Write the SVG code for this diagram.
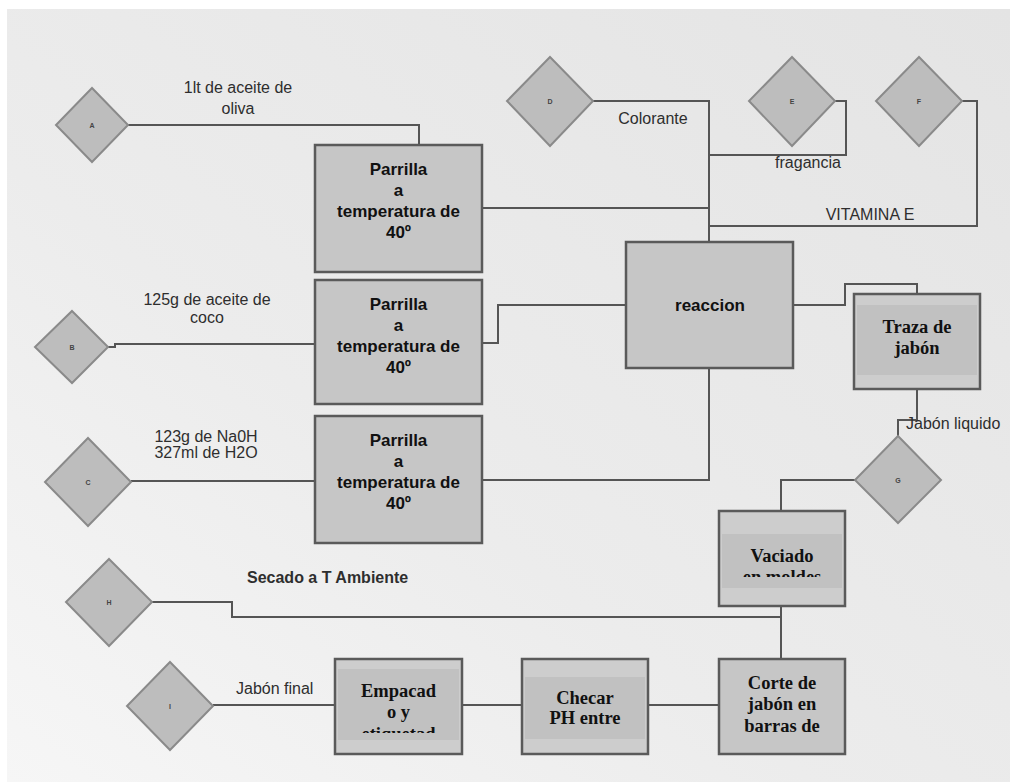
<svg xmlns="http://www.w3.org/2000/svg" width="1010" height="782" viewBox="0 0 1010 782">
<defs>
<linearGradient id="bg" x1="1" y1="0" x2="0" y2="1">
<stop offset="0" stop-color="#e4e4e4"/>
<stop offset="0.6" stop-color="#ececec"/>
<stop offset="1" stop-color="#f6f6f6"/>
</linearGradient>
<clipPath id="clipV"><rect x="719" y="511" width="126" height="66"/></clipPath>
<clipPath id="clipE"><rect x="335" y="659" width="127" height="74"/></clipPath>
</defs>
<style>
.dia{fill:#bdbdbd;stroke:#8a8a8a;stroke-width:2}
.dl{font-family:"Liberation Sans",Arial,sans-serif;font-size:7px;font-weight:bold;fill:#444;text-anchor:middle}
.box{fill:#c6c6c6;stroke:#5a5a5a;stroke-width:2.5}
.tb{fill:#cdcdcd;stroke:#5a5a5a;stroke-width:2.5}
.mid{fill:#c1c1c1}
.bt{font-family:"Liberation Sans",Arial,sans-serif;font-size:17px;font-weight:bold;fill:#111;text-anchor:middle}
.tt{font-family:"Liberation Serif","Times New Roman",serif;font-size:18.5px;font-weight:bold;fill:#111;text-anchor:middle}
.ln{fill:none;stroke:#555;stroke-width:2}
.lb{font-family:"Liberation Sans",Arial,sans-serif;font-size:16px;fill:#2e2e2e}
</style>
<rect x="0" y="0" width="1010" height="782" fill="#ffffff"/>
<rect x="7" y="9" width="1003" height="773" fill="url(#bg)"/>

<g id="connectors">
<path class="ln" d="M128,125 H419 V145"/>
<path class="ln" d="M108,347 H115 V344 H315"/>
<path class="ln" d="M131,481 H315"/>
<path class="ln" d="M482,208 H709"/>
<path class="ln" d="M593,101 H709 V242"/>
<path class="ln" d="M835,101 H846 V155 H709"/>
<path class="ln" d="M962,101 H977 V226 H709"/>
<path class="ln" d="M482,343 H498 V305 H626"/>
<path class="ln" d="M482,480 H709 V368"/>
<path class="ln" d="M793,305 H845 V284 H917 V294"/>
<path class="ln" d="M917,389 V420 H898 V436"/>
<path class="ln" d="M855,480 H781 V511"/>
<path class="ln" d="M781,606 V659"/>
<path class="ln" d="M152,602 H232 V617 H781"/>
<path class="ln" d="M213,705 H335"/>
<path class="ln" d="M462,705 H522"/>
<path class="ln" d="M648,705 H719"/>
<text class="lb" x="238" y="93" text-anchor="middle">1lt de aceite de</text>
<text class="lb" x="238" y="114" text-anchor="middle">oliva</text>
<text class="lb" x="207" y="305" text-anchor="middle">125g de aceite de</text>
<text class="lb" x="207" y="323" text-anchor="middle">coco</text>
<text class="lb" x="206" y="442" text-anchor="middle">123g de Na0H</text>
<text class="lb" x="206" y="458" text-anchor="middle">327ml de H2O</text>
<text class="lb" x="653" y="124" text-anchor="middle">Colorante</text>
<text class="lb" x="808" y="168" text-anchor="middle">fragancia</text>
<text class="lb" x="870" y="220" text-anchor="middle">VITAMINA E</text>
<text class="lb" x="906" y="429" font-size="14.5">Jabón liquido</text>
<text class="lb" x="247" y="583" font-size="14.5" font-weight="bold" fill="#1a1a1a">Secado a T Ambiente</text>
<text class="lb" x="236" y="694">Jabón final</text>
</g>

<g id="A"><polygon class="dia" points="92,88 128,125 92,162 56,125"/><text class="dl" x="92" y="128">A</text></g>
<g id="B"><polygon class="dia" points="72,311 108,347 72,383 35,347"/><text class="dl" x="72" y="350">B</text></g>
<g id="C"><polygon class="dia" points="88,438 131,482 88,526 45,482"/><text class="dl" x="88" y="485">C</text></g>
<g id="D"><polygon class="dia" points="550,57 593,101 550,146 507,101"/><text class="dl" x="550" y="104">D</text></g>
<g id="E"><polygon class="dia" points="792,57 835,101 792,146 749,101"/><text class="dl" x="792" y="104">E</text></g>
<g id="F"><polygon class="dia" points="919,57 962,101 919,146 876,101"/><text class="dl" x="919" y="104">F</text></g>
<g id="G"><polygon class="dia" points="898,436 941,480 898,523 855,480"/><text class="dl" x="898" y="483">G</text></g>
<g id="H"><polygon class="dia" points="109,559 152,602 109,646 66,602"/><text class="dl" x="109" y="605">H</text></g>
<g id="I"><polygon class="dia" points="170,662 213,706 170,750 127,706"/><text class="dl" x="170" y="709">I</text></g>

<g id="parrilla1"><rect class="box" x="315" y="145" width="167" height="127"/>
<text class="bt" x="398.5" y="175">Parrilla</text><text class="bt" x="398.5" y="196">a</text><text class="bt" x="398.5" y="217">temperatura de</text><text class="bt" x="398.5" y="238">40º</text></g>
<g id="parrilla2"><rect class="box" x="315" y="280" width="167" height="124"/>
<text class="bt" x="398.5" y="310">Parrilla</text><text class="bt" x="398.5" y="331">a</text><text class="bt" x="398.5" y="352">temperatura de</text><text class="bt" x="398.5" y="373">40º</text></g>
<g id="parrilla3"><rect class="box" x="315" y="416" width="167" height="127"/>
<text class="bt" x="398.5" y="446">Parrilla</text><text class="bt" x="398.5" y="467">a</text><text class="bt" x="398.5" y="488">temperatura de</text><text class="bt" x="398.5" y="509">40º</text></g>

<g id="reaccion"><rect class="box" x="626" y="242" width="167" height="126"/>
<text class="bt" x="710" y="311" font-size="17.5">reaccion</text></g>

<g id="traza"><rect class="tb" x="854" y="294" width="126" height="95"/><rect class="mid" x="857" y="305" width="120" height="70"/>
<text class="tt" x="917" y="333">Traza de</text><text class="tt" x="917" y="354">jabón</text></g>

<g id="vaciado"><rect class="tb" x="719" y="511" width="126" height="95"/><rect class="mid" x="722" y="534" width="120" height="54"/>
<text class="tt" x="782" y="562">Vaciado</text><text class="tt" x="782" y="583" clip-path="url(#clipV)">en moldes</text></g>

<g id="corte"><rect class="box" x="719" y="659" width="126" height="95"/>
<text class="tt" x="782" y="689">Corte de</text><text class="tt" x="782" y="710">jabón en</text><text class="tt" x="782" y="732">barras de</text></g>

<g id="checar"><rect class="tb" x="522" y="659" width="126" height="95"/><rect class="mid" x="525" y="677" width="120" height="62"/>
<text class="tt" x="585" y="704">Checar</text><text class="tt" x="585" y="724">PH entre</text></g>

<g id="empacado"><rect class="tb" x="335" y="659" width="127" height="95"/><rect class="mid" x="338" y="669" width="121" height="71"/>
<text class="tt" x="398.5" y="697">Empacad</text><text class="tt" x="398.5" y="718">o y</text><text class="tt" x="398.5" y="740" clip-path="url(#clipE)">etiquetad</text></g>
</svg>
